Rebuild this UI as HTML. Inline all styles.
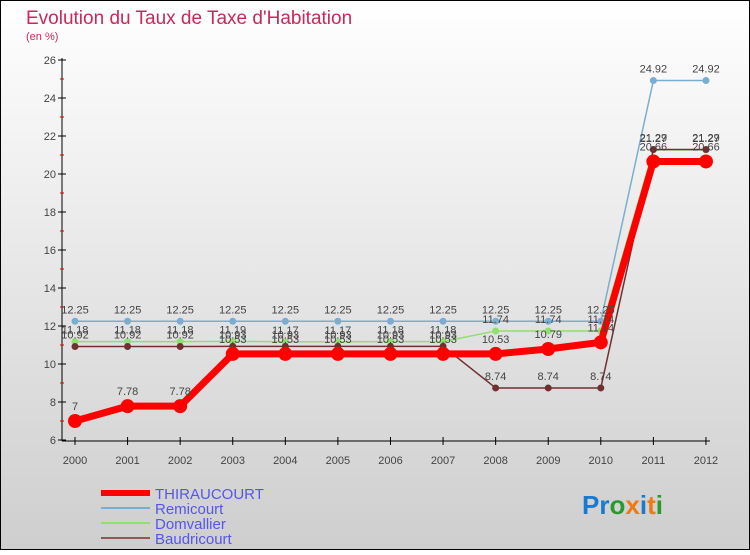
<!DOCTYPE html>
<html><head><meta charset="utf-8"><style>
html,body{margin:0;padding:0}
body{width:750px;height:550px;overflow:hidden;font-family:"Liberation Sans",sans-serif}
svg text{font-family:"Liberation Sans",sans-serif}
</style></head><body>
<svg id="chart" width="750" height="550" viewBox="0 0 750 550" xmlns="http://www.w3.org/2000/svg">
<defs><linearGradient id="bg" x1="0" y1="0" x2="0" y2="1"><stop offset="0" stop-color="#ffffff"/><stop offset="1" stop-color="#cecece"/></linearGradient></defs>
<rect x="0.5" y="0.5" width="749" height="549" fill="url(#bg)" stroke="#000"/>
<text x="26" y="24" font-size="19" fill="#c8285a">Evolution du Taux de Taxe d'Habitation</text>
<text x="26" y="40" font-size="11" fill="#c8285a">(en %)</text>
<g id="axes"></g><g id="series"></g><g id="labels"></g>
<g>
<line x1="101" y1="493" x2="150" y2="493" stroke="#f00" stroke-width="6"/>
<text x="155" y="499" font-size="15" fill="#5555ee">THIRAUCOURT</text>
<line x1="101" y1="508" x2="150" y2="508" stroke="#7aaed0" stroke-width="2"/>
<text x="155" y="514" font-size="15" fill="#5555ee">Remicourt</text>
<line x1="101" y1="523" x2="150" y2="523" stroke="#90e070" stroke-width="2"/>
<text x="155" y="529" font-size="15" fill="#5555ee">Domvallier</text>
<line x1="101" y1="538" x2="150" y2="538" stroke="#905858" stroke-width="2"/>
<text x="155" y="544" font-size="15" fill="#5555ee">Baudricourt</text>
</g>
<text x="582" y="514" font-size="26" font-weight="bold"><tspan fill="#1a7ad0">Pr</tspan><tspan fill="#2a9a30">o</tspan><tspan fill="#f07a10">x</tspan><tspan fill="#1a7ad0">i</tspan><tspan fill="#f07a10">t</tspan><tspan fill="#2a9a30">i</tspan></text>
</svg>
<script>
const years=[2000,2001,2002,2003,2004,2005,2006,2007,2008,2009,2010,2011,2012];
const yTicks=[6,8,10,12,14,16,18,20,22,24,26];
const thiraucourt=[7,7.78,7.78,10.53,10.53,10.53,10.53,10.53,10.53,10.79,11.14,20.66,20.66];
const remicourt=[12.25,12.25,12.25,12.25,12.25,12.25,12.25,12.25,12.25,12.25,12.25,24.92,24.92];
const domvallier=[11.18,11.18,11.18,11.19,11.17,11.17,11.18,11.18,11.74,11.74,11.74,21.27,21.27];
const baudricourt=[10.92,10.92,10.92,10.93,10.93,10.93,10.93,10.93,8.74,8.74,8.74,21.29,21.29];
const NS="http://www.w3.org/2000/svg";
const X=i=>75+i*52.58;
const Y=v=>440-(v-6)*19;
function mk(t,a,p){const e=document.createElementNS(NS,t);for(const k in a)e.setAttribute(k,a[k]);p.appendChild(e);return e;}
const ax=document.getElementById('axes'),sg=document.getElementById('series'),lg=document.getElementById('labels');
const yl=mk('line',{x1:62,y1:58,x2:62,y2:441,stroke:'#000'},ax);


const xl=mk('line',{x1:62,y1:441,x2:710,y2:441,stroke:'#000'},ax);


yTicks.forEach(v=>{
 mk('line',{x1:58,y1:Y(v),x2:66,y2:Y(v),stroke:'#000'},ax);
 if(v<26)mk('line',{x1:60,y1:Y(v+1),x2:64,y2:Y(v+1),stroke:'#d00'},ax);
 const t=mk('text',{x:56,y:Y(v)+4,'font-size':11,'text-anchor':'end',fill:'#444'},ax);
 
 
 t.textContent=v;
});
years.forEach((y,i)=>{
 mk('line',{x1:X(i),y1:437,x2:X(i),y2:445,stroke:'#000'},ax);
 const t=mk('text',{x:X(i),y:464,'font-size':11,'text-anchor':'middle',fill:'#444'},ax);
 
 
 t.textContent=y;
});
function series(vals,color,w,r,name,dy){
 const pts=vals.map((v,i)=>X(i)+','+Y(v)).join(' ');
 const pl=mk('polyline',{points:pts,fill:'none',stroke:color,'stroke-width':w,'stroke-linejoin':'round'},sg);
 
 
 vals.forEach((v,i)=>{
  const c=mk('circle',{cx:X(i),cy:Y(v),r:r,fill:color},sg);
  
  
  const t=mk('text',{x:X(i),y:Y(v)+dy,'font-size':11,'text-anchor':'middle',fill:'#444'},lg);
  
  
  t.textContent=String(v).replace('.','.');
 });
}
series(remicourt,'#7aaed0',1.5,3.5,'remicourt',-8);
series(domvallier,'#90e070',1.5,3.5,'domvallier',-8);
series(baudricourt,'#703030',1.5,3.5,'baudricourt',-8);
series(thiraucourt,'#f00',7,7,'thiraucourt',-11);
</script>
</body></html>
